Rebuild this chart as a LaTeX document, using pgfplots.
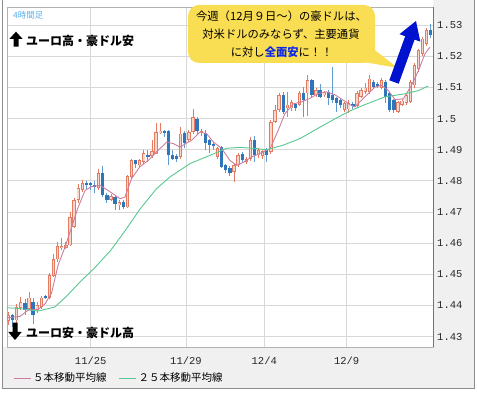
\documentclass[border=0pt]{standalone}
\usepackage{pgfplots}
\pgfplotsset{compat=1.18}
\usepackage{pgfplotstable}
\usepackage{fontspec}
\newfontfamily\jp{Noto Sans CJK JP}
\newfontfamily\mono{Liberation Mono}
\definecolor{bullline}{RGB}{228,122,96}
\definecolor{bullfill}{RGB}{249,214,203}
\definecolor{bear}{RGB}{46,117,186}
\definecolor{bearwick}{RGB}{96,156,212}
\definecolor{maf}{RGB}{205,125,160}
\definecolor{mas}{RGB}{88,200,145}
\definecolor{gridc}{RGB}{216,216,216}
\definecolor{panel}{RGB}{240,240,240}
\definecolor{callout}{RGB}{249,221,82}
\definecolor{bigarrow}{RGB}{0,18,208}
\definecolor{tf}{RGB}{90,175,235}
\definecolor{hl}{RGB}{10,40,230}

\pgfplotstableread{
i o h l c
0 1.4350 1.4378 1.4338 1.4368
2 1.4352 1.4405 1.4345 1.4395
3 1.4392 1.4427 1.4385 1.4410
5 1.4390 1.4442 1.4385 1.4425
7 1.4385 1.4410 1.4375 1.4400
8 1.4395 1.4432 1.4390 1.4425
10 1.4425 1.4505 1.4420 1.4497
11 1.4495 1.4565 1.4490 1.4550
12 1.4548 1.4604 1.4540 1.4590
13 1.4585 1.4617 1.4578 1.4592
14 1.4585 1.4605 1.4580 1.4595
15 1.4593 1.4700 1.4590 1.4684
16 1.4652 1.4745 1.4648 1.4738
17 1.4738 1.4790 1.4730 1.4776
18 1.4770 1.4802 1.4765 1.4792
22 1.4777 1.4838 1.4772 1.4824
25 1.4740 1.4758 1.4735 1.4752
27 1.4722 1.4738 1.4706 1.4733
29 1.4715 1.4820 1.4712 1.4815
30 1.4812 1.4870 1.4808 1.4866
32 1.4850 1.4872 1.4845 1.4866
33 1.4860 1.4898 1.4855 1.4889
35 1.4880 1.4930 1.4875 1.4895
36 1.4888 1.4986 1.4885 1.4957
37 1.4955 1.4985 1.4950 1.4962
42 1.4877 1.4973 1.4870 1.4952
44 1.4931 1.4965 1.4925 1.4957
45 1.4957 1.5032 1.4950 1.5005
47 1.4953 1.4968 1.4945 1.4960
51 1.4877 1.4910 1.4872 1.4905
55 1.4828 1.4855 1.4797 1.4850
56 1.4850 1.4890 1.4845 1.4882
58 1.4862 1.4878 1.4855 1.4870
59 1.4870 1.4940 1.4865 1.4931
61 1.4882 1.4905 1.4875 1.4898
62 1.4880 1.4900 1.4870 1.4895
64 1.4893 1.4995 1.4885 1.4989
65 1.4989 1.5045 1.4985 1.5027
66 1.5027 1.5082 1.5020 1.5075
68 1.5033 1.5086 1.5005 1.5045
69 1.5033 1.5060 1.5025 1.5054
71 1.5043 1.5090 1.5040 1.5082
73 1.5081 1.5140 1.5010 1.5123
75 1.5075 1.5098 1.5070 1.5091
77 1.5075 1.5090 1.5070 1.5085
82 1.5027 1.5055 1.5020 1.5050
83 1.5030 1.5060 1.5018 1.5050
85 1.5040 1.5088 1.5035 1.5082
86 1.5069 1.5100 1.5065 1.5091
87 1.5085 1.5115 1.5078 1.5100
88 1.5086 1.5140 1.5080 1.5129
91 1.5100 1.5130 1.5095 1.5123
95 1.5022 1.5058 1.5018 1.5054
96 1.5045 1.5062 1.5040 1.5058
97 1.5050 1.5080 1.5045 1.5075
98 1.5054 1.5125 1.5050 1.5118
99 1.5107 1.5180 1.5100 1.5172
100 1.5161 1.5225 1.5150 1.5220
101 1.5209 1.5262 1.5200 1.5257
102 1.5241 1.5290 1.5235 1.5284
}\bull

\pgfplotstableread{
i o h l c
1 1.4368 1.4372 1.4330 1.4352
4 1.4408 1.4420 1.4370 1.4385
6 1.4412 1.4425 1.4340 1.4370
9 1.4430 1.4435 1.4420 1.4426
19 1.4795 1.4800 1.4775 1.4788
20 1.4792 1.4798 1.4770 1.4786
21 1.4788 1.4800 1.4760 1.4782
23 1.4826 1.4848 1.4750 1.4754
24 1.4755 1.4760 1.4730 1.4740
26 1.4750 1.4756 1.4706 1.4726
28 1.4732 1.4738 1.4710 1.4716
31 1.4866 1.4868 1.4840 1.4855
34 1.4882 1.4900 1.4860 1.4878
38 1.4960 1.4965 1.4940 1.4955
39 1.4960 1.4965 1.4850 1.4882
40 1.4882 1.4898 1.4866 1.4872
41 1.4880 1.4885 1.4860 1.4870
43 1.4953 1.4960 1.4905 1.4921
46 1.5000 1.5005 1.4950 1.4960
48 1.4953 1.4965 1.4900 1.4921
49 1.4931 1.4935 1.4890 1.4915
50 1.4920 1.4925 1.4900 1.4912
52 1.4909 1.4912 1.4840 1.4845
53 1.4850 1.4855 1.4825 1.4834
54 1.4840 1.4848 1.4815 1.4825
57 1.4885 1.4892 1.4860 1.4866
60 1.4931 1.4945 1.4860 1.4882
63 1.4898 1.4905 1.4860 1.4882
67 1.5075 1.5085 1.5015 1.5021
70 1.5046 1.5050 1.5025 1.5033
72 1.5082 1.5102 1.5005 1.5059
74 1.5123 1.5128 1.5070 1.5075
76 1.5091 1.5110 1.5065 1.5069
78 1.5086 1.5092 1.5045 1.5065
79 1.5075 1.5165 1.5050 1.5059
80 1.5065 1.5070 1.5020 1.5050
81 1.5059 1.5062 1.5035 1.5043
84 1.5046 1.5052 1.5030 1.5040
89 1.5118 1.5125 1.5095 1.5102
90 1.5112 1.5118 1.5098 1.5104
92 1.5118 1.5125 1.5050 1.5070
93 1.5081 1.5085 1.5020 1.5027
94 1.5059 1.5062 1.5018 1.5027
103 1.5284 1.5305 1.5260 1.5268
}\bear

\pgfplotstableread{
x y
-0.4 1.4360
2.8 1.4365
4.8 1.4385
7.3 1.4388
8.9 1.4405
10.5 1.4440
12.1 1.4530
13.8 1.4588
15.4 1.4652
17.0 1.4716
18.7 1.4770
20.3 1.4782
22.3 1.4786
24.8 1.4765
27.2 1.4743
28.4 1.4748
30.0 1.4807
32.0 1.4845
34.1 1.4866
36.1 1.4893
38.6 1.4925
40.2 1.4920
41.8 1.4909
44.7 1.4931
46.7 1.4957
48.3 1.4952
50.0 1.4925
52.0 1.4904
54.0 1.4866
55.7 1.4850
57.3 1.4860
59.3 1.4877
61.3 1.4888
63.8 1.4904
65.8 1.4963
67.4 1.5016
69.5 1.5048
71.5 1.5054
73.5 1.5065
75.6 1.5081
77.6 1.5086
79.6 1.5077
81.7 1.5059
83.3 1.5045
84.5 1.5038
86.9 1.5070
89.4 1.5102
91.0 1.5107
92.6 1.5091
94.3 1.5061
96.3 1.5064
98.3 1.5107
100.0 1.5155
101.6 1.5209
102.8 1.5230
}\mafive

\pgfplotstableread{
x y
-0.4 1.4393
2.8 1.4390
7.2 1.4382
11.3 1.4395
14.2 1.4430
17.4 1.4475
21.1 1.4522
24.8 1.4575
28.0 1.4632
32.1 1.4710
36.1 1.4775
39.4 1.4813
44.3 1.4856
49.1 1.4882
53.2 1.4905
56.5 1.4908
60.5 1.4904
63.0 1.4900
67.0 1.4915
71.1 1.4936
76.0 1.4973
80.4 1.5005
83.3 1.5025
86.9 1.5045
91.8 1.5070
96.7 1.5080
99.9 1.5090
102.4 1.5105
}\matwentyfive

\pgfplotsset{
  candle/.style n args={2}{draw=none, mark=none, forget plot,
    error bars/.cd, y dir=both, y explicit, error mark=none,
    error bar style={draw=#1, line width=#2, solid}},
}

\begin{document}
\begin{tikzpicture}
\path[use as bounding box] (0,0) rectangle (477pt,395pt);
\begin{scope}[x=1pt,y=-1pt,yshift=395pt]
  \fill[panel] (433,0) rectangle (474.5,388.5);
  \fill[panel] (2.5,347) rectangle (474.5,388.5);
\end{scope}
\begin{axis}[
  at={(7pt,48pt)}, anchor=south west,
  scale only axis, width=426pt, height=340pt,
  xmin=-0.366, xmax=103.54, ymin=1.42666, ymax=1.53588,
  axis line style={draw=black!30},
  xtick={20.05,43.29,62.39,82.49},
  xticklabels={11/25,11/29,12/4,12/9},
  ytick={1.43,1.44,1.45,1.46,1.47,1.48,1.49,1.5,1.51,1.52,1.53},
  yticklabels={1.43,1.44,1.45,1.46,1.47,1.48,1.49,1.5,1.51,1.52,1.53},
  yticklabel pos=right,
  major tick length=0pt,
  grid=major,
  major grid style={draw=gridc, line width=0.9pt},
  ticklabel style={font=\mono\fontsize{10.5}{12}\selectfont, text=black!85},
  yticklabel style={anchor=west, inner sep=0pt, xshift=4pt},
  xticklabel style={anchor=north, inner sep=0pt, yshift=-10pt},
  legend style={at={(axis description cs:0.014,-0.0912)}, anchor=west,
    draw=none, fill=none, inner sep=0pt,
    font=\jp\fontsize{10.5}{12}\selectfont,
    nodes={inner sep=2pt},
    /tikz/every even column/.append style={column sep=10pt}},
  legend columns=2,
  legend image code/.code={\draw[#1, line width=1pt] (0pt,0pt) -- (17pt,0pt);},
]
% wicks
\addplot[candle={bullline}{0.8pt}]
  table[x=i, y expr={0.5*(\thisrow{h}+\thisrow{l})}, y error expr={0.5*(\thisrow{h}-\thisrow{l})}] {\bull};
\addplot[candle={bearwick}{0.8pt}]
  table[x=i, y expr={0.5*(\thisrow{h}+\thisrow{l})}, y error expr={0.5*(\thisrow{h}-\thisrow{l})}] {\bear};
% bodies
\addplot[candle={bullline}{3.3pt}]
  table[x=i, y expr={0.5*(\thisrow{o}+\thisrow{c})}, y error expr={max(0.5*abs(\thisrow{c}-\thisrow{o}),0.00016)}] {\bull};
\addplot[candle={bullfill}{1.5pt}]
  table[x=i, y expr={0.5*(\thisrow{o}+\thisrow{c})}, y error expr={max(0.5*abs(\thisrow{c}-\thisrow{o})-0.00026,0)}] {\bull};
\addplot[candle={bear}{3.3pt}]
  table[x=i, y expr={0.5*(\thisrow{o}+\thisrow{c})}, y error expr={max(0.5*abs(\thisrow{c}-\thisrow{o}),0.00016)}] {\bear};
% moving averages
\addplot[maf, line width=0.9pt, mark=none] table[x=x,y=y] {\mafive};
\addlegendentry{５本移動平均線}
\addplot[mas, line width=0.9pt, mark=none] table[x=x,y=y] {\matwentyfive};
\addlegendentry{２５本移動平均線}
\end{axis}
\begin{scope}[x=1pt,y=-1pt,yshift=395pt]
  \draw[black!55, line width=0.8pt] (433,7) -- (433,347);
  \draw[black!45, line width=0.8pt] (2.5,0) -- (2.5,388.5) -- (474.5,388.5) -- (474.5,0);
  \node[anchor=west, inner sep=0pt, text=tf, font=\jp\fontsize{8.5}{10}\selectfont] at (13,15) {4時間足};
  % up arrow + label
  \fill[black] (16,31.7) -- (22.7,39) -- (18.5,39) -- (18.5,46.7) -- (13.5,46.7) -- (13.5,39) -- (9.3,39) -- cycle;
  \node[anchor=west, inner sep=0pt, font=\jp\bfseries\fontsize{12}{14}\selectfont] at (26,41) {ユーロ高・豪ドル安};
  % down arrow + label
  \fill[black] (12.5,322.7) -- (17.5,322.7) -- (17.5,332) -- (21.7,332) -- (15,340) -- (8.3,332) -- (12.5,332) -- cycle;
  \node[anchor=west, inner sep=0pt, font=\jp\bfseries\fontsize{12}{14}\selectfont] at (26,332.5) {ユーロ安・豪ドル高};
  % callout
  \fill[callout, rounded corners=11pt] (188,5) rectangle (375,63);
  \fill[callout] (358,61) -- (398,68) -- (372,48) -- cycle;
  \node[font=\jp\fontsize{11.3}{13}\selectfont, inner sep=0pt] at (281.5,16.7) {今週（12月９日～）の豪ドルは、};
  \node[font=\jp\fontsize{11.3}{13}\selectfont, inner sep=0pt] at (281,34) {対米ドルのみならず、主要通貨};
  \node[font=\jp\fontsize{11.3}{13}\selectfont, inner sep=0pt] at (281.7,51.7) {に対し{\color{hl}\bfseries 全面安}に！！};
  % big blue arrow
  \fill[bigarrow] (389.3,80.3) -- (405.2,36.2) -- (399.5,34.2) -- (416,21) -- (420.3,41.6) -- (414.6,39.6) -- (398.7,83.7) -- cycle;
\end{scope}
\end{tikzpicture}
\end{document}
